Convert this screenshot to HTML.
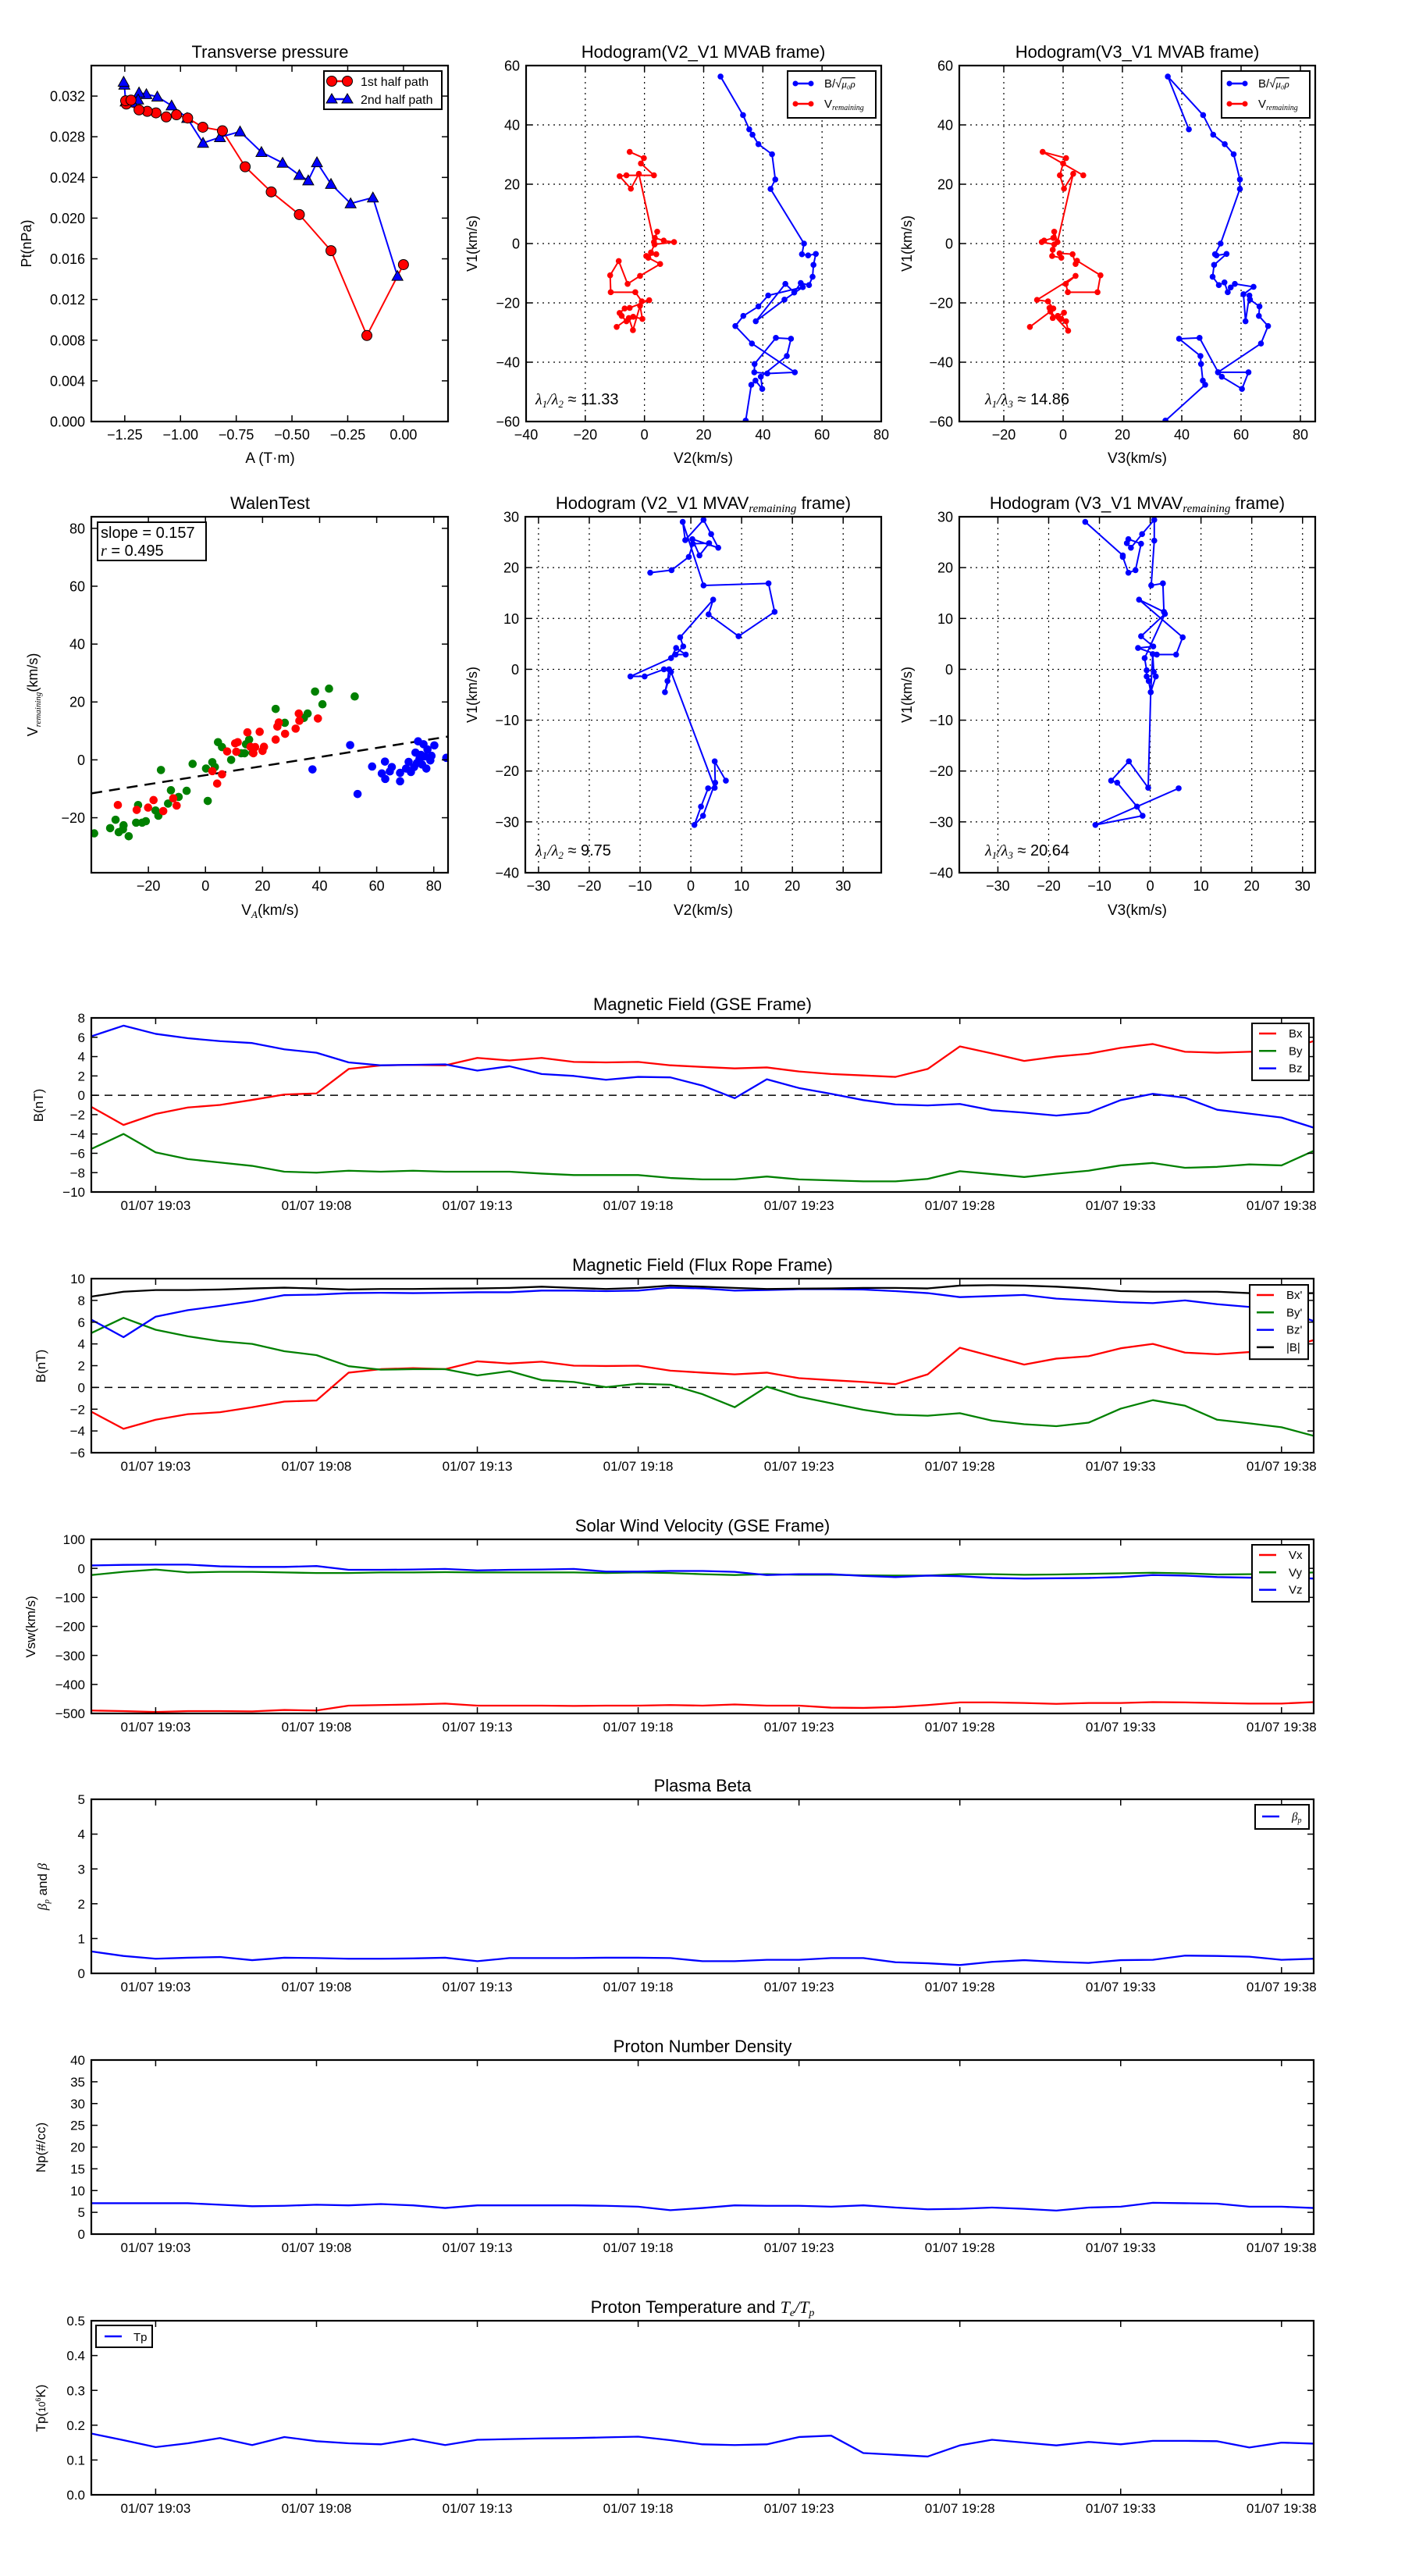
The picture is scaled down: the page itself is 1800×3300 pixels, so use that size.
<!DOCTYPE html>
<html><head><meta charset="utf-8"><title>Flux rope analysis</title>
<style>
html,body{margin:0;padding:0;background:#fff;}
svg{display:block;font-family:"Liberation Sans",sans-serif;}
</style></head>
<body>
<svg id="fig" xmlns="http://www.w3.org/2000/svg" width="1800" height="3300" viewBox="0 0 1800 3300">
<rect x="0" y="0" width="1800" height="3300" fill="#fff"/>
</svg>
<script>
// ---------- DATA ----------
const ptA1 = [0,-0.164,-0.325,-0.467,-0.593,-0.71,-0.812,-0.9,-0.968,-1.018,-1.064,-1.11,-1.149,-1.186,-1.243,-1.246,-1.222];
const ptP1 = [0.01543,0.00846,0.0168,0.02035,0.02258,0.02505,0.02859,0.02894,0.02984,0.03016,0.02995,0.03035,0.0305,0.03064,0.03122,0.03154,0.0316];
const ptA2 = [-0.027,-0.137,-0.237,-0.325,-0.388,-0.427,-0.467,-0.542,-0.637,-0.733,-0.823,-0.899,-0.97,-1.04,-1.104,-1.153,-1.186,-1.19,-1.216,-1.246,-1.252,-1.255];
const ptP2 = [0.01431,0.02202,0.02144,0.02335,0.02548,0.0237,0.02423,0.02543,0.02649,0.02851,0.02795,0.02739,0.02984,0.03106,0.03194,0.03218,0.03234,0.03165,0.03136,0.03146,0.03311,0.0334];

const h2RedX = [-5.0,-0.2,-1.2,3.2,-6.1,-8.4,-4.6,-1.9,3.2,4.3,3.5,6.5,10.0,3.4,2.2,4.0,0.6,1.3,5.3,-1.5,-5.7,-8.7,-11.6,-11.4,-3.1,-0.9,1.6,-5.0,-6.7,-8.4,-7.7,-6.1,-3.8,-0.7,-1.5,-3.9,-5.3,-9.4];
const h2RedY = [30.9,28.8,27.0,23.0,23.0,22.7,18.5,23.5,0.5,4.0,1.9,1.0,0.5,-0.3,-3.0,-3.6,-4.2,-4.8,-6.9,-10.9,-13.6,-5.9,-10.7,-16.4,-16.4,-19.5,-19.1,-21.7,-21.9,-23.4,-24.4,-26.2,-24.7,-25.4,-21.0,-29.2,-25.1,-28.1];
const h2BlueX = [25.7,33.3,35.4,36.5,38.5,43.1,44.2,42.6,53.9,53.2,55.3,57.9,57.1,56.8,55.6,52.8,50.6,47.6,37.6,47.3,53.5,41.8,38.5,33.4,30.7,36.3,50.8,41.5,37.1,37.2,44.4,49.5,48.1,39.3,39.8,37.5,36.1,34.2];
const h2BlueY = [56.3,43.3,38.5,36.7,33.5,30.1,21.6,18.4,0,-3.6,-4.0,-3.5,-7.2,-11.2,-14.0,-13.3,-16.5,-13.6,-26.2,-18.9,-14.7,-17.5,-21.2,-24.4,-27.8,-33.7,-43.4,-43.8,-43.4,-40.6,-31.8,-32.1,-37.9,-44.9,-49.0,-46.2,-47.6,-59.7];

const h3RedX = [6.8,-6.9,1.0,0.0,-1.1,0.3,3.4,-1.9,-3.0,-3.3,-6.4,-7.2,-3.0,-3.5,-3.7,-0.6,-1.2,3.2,4.2,4.7,12.6,11.6,1.6,0.9,4.2,-8.8,-5.1,-3.3,-4.6,-3.5,-1.8,0.3,-0.6,1.0,1.7,-4.3,-11.2];
const h3RedY = [23.0,30.9,28.8,27.0,23.0,18.5,23.5,0.5,4.0,1.9,1.0,0.5,-0.3,-2.1,-4.2,-4.8,-3.3,-3.6,-6.9,-5.8,-10.7,-16.4,-16.4,-13.6,-10.9,-19.0,-19.5,-21.9,-21.7,-25.1,-24.4,-23.3,-25.4,-26.2,-29.4,-22.9,-28.1];
const h3BlueX = [42.4,35.3,47.2,50.6,54.5,57.5,59.6,59.6,53.1,51.2,51.7,55.1,50.9,50.4,52.5,54.4,55.5,56.5,57.9,64.2,60.8,61.5,62.8,63.0,66.2,66.0,69.1,66.7,52.2,62.5,60.3,53.5,52.3,46.0,39.1,46.3,46.5,47.1,47.9,34.5];
const h3BlueY = [38.5,56.3,43.3,36.7,33.5,30.1,21.6,18.4,0.0,-3.6,-4.0,-3.5,-7.2,-11.2,-14.0,-13.1,-16.4,-14.8,-13.6,-14.6,-17.1,-26.2,-17.5,-18.9,-21.2,-24.4,-27.8,-33.7,-43.4,-43.4,-49.0,-44.9,-43.4,-31.8,-32.1,-37.9,-40.6,-46.2,-47.6,-59.7];

const walenGreenX = [-39.0,-33.4,-31.5,-30.4,-28.7,-28.9,-26.9,-23.6,-24.3,-22.2,-20.9,-17.5,-16.5,-15.6,-13.1,-12.1,-9.4,-6.6,-4.5,0.2,0.8,2.4,3.3,4.4,5.8,9.0,12.5,13.7,14.2,15.3,16.5,24.6,27.8,34.5,35.8,38.4,41.0,43.3,52.3];
const walenGreenY = [-25.4,-23.6,-20.7,-25.0,-22.6,-24.0,-26.4,-15.6,-21.7,-21.7,-21.2,-17.5,-19.3,-3.5,-15.1,-10.5,-12.8,-10.7,-1.4,-3.0,-14.2,-0.8,-2.5,6.1,4.4,0.0,2.3,2.3,5.4,7.0,2.5,17.6,12.8,14.5,16.0,23.6,19.2,24.6,21.9];
const walenRedX = [-30.7,-24.1,-20.1,-18.2,-14.8,-11.3,-10.1,2.4,4.1,5.8,7.6,10.4,10.8,11.3,14.7,15.8,16.8,17.4,19.0,20.0,20.5,24.6,25.2,25.7,27.9,31.6,32.7,32.9,39.4];
const walenRedY = [-15.6,-17.3,-16.5,-13.9,-17.7,-13.3,-15.8,-3.9,-8.2,-5.0,2.9,5.7,2.8,6.1,9.5,4.5,2.3,4.4,9.7,3.1,4.5,7.0,11.5,12.9,9.0,10.8,16.0,13.5,14.3];
const walenBlueX = [37.5,50.7,53.3,58.4,62.9,61.8,63.0,65.3,64.6,68.2,68.2,70.3,71.2,72.0,73.1,73.6,74.5,75.0,75.9,76.4,76.9,77.4,77.8,78.8,79.2,80.2,84.4,74.1,75.5];
const walenBlueY = [-3.3,5.1,-11.8,-2.3,-0.6,-4.7,-6.6,-2.5,-4.0,-4.5,-7.4,-3.0,-0.7,-4.2,-2.5,2.5,6.4,0.3,-1.6,5.4,1.2,-3.0,3.6,-0.2,1.4,5.0,0.7,-1.1,1.7];
const walenSlope = 0.157;
const walenIntercept = -5.3;

const h5X = [-8.0,-3.8,-0.4,0.4,3.6,1.7,0.3,5.4,4.0,2.5,-1.1,-1.6,2.5,15.3,16.5,9.4,3.5,4.4,-2.1,-1.5,-3.0,-1.0,-2.9,-3.9,-11.9,-9.1,-5.3,-4.3,-4.6,-5.1,-3.9,4.7,3.4,2.0,0.7,2.4,4.8,4.7,6.9];
const h5Y = [19.0,19.5,22.1,24.7,24.8,22.4,25.6,23.9,26.6,29.4,25.4,29.0,16.5,16.9,11.3,6.5,10.8,13.7,6.3,4.5,2.9,2.9,4.2,2.2,-1.4,-1.4,0,0,-2.3,-4.5,-0.5,-23.3,-23.4,-27.0,-30.6,-28.8,-22.3,-18.1,-21.9];
const h6X = [-12.8,-5.4,-5.4,-4.3,-2.9,-1.8,-4.3,-4.6,-3.8,-1.6,0.8,0.8,0.2,2.5,2.7,-2.2,6.4,5.1,1.3,-2.4,0.6,-1.8,2.9,-1.1,-0.7,-0.7,-0.3,0.1,0.5,0.7,1.1,0.1,-0.4,-4.2,-7.7,-6.5,-2.6,-1.5,-10.8,5.6];
const h6Y = [29.0,22.4,22.1,19.0,19.5,24.7,25.6,24.8,23.9,26.6,29.4,25.3,16.5,16.9,11.3,13.7,6.3,2.9,2.9,4.2,4.5,6.5,10.9,2.2,-0.2,-1.4,-2.3,-4.5,3.0,-0.5,-1.4,-4.5,-23.3,-18.1,-21.9,-22.3,-27.0,-28.8,-30.6,-23.4];

// time series (one sample per minute starting 01/07 19:01)
const timeTickMinutes = [2,7,12,17,22,27,32,37];
const timeTickLabels = ["01/07 19:03","01/07 19:08","01/07 19:13","01/07 19:18","01/07 19:23","01/07 19:28","01/07 19:33","01/07 19:38"];
const gseBx = [-1.2,-3.07,-1.93,-1.26,-1.0,-0.48,0.08,0.19,2.72,3.09,3.14,3.1,3.86,3.6,3.86,3.45,3.4,3.45,3.1,2.93,2.78,2.88,2.46,2.2,2.05,1.9,2.72,5.05,4.33,3.55,4.0,4.3,4.9,5.3,4.5,4.4,4.5,4.6,5.6];
const gseBy = [-5.55,-4.0,-5.9,-6.6,-6.95,-7.3,-7.9,-8.0,-7.8,-7.9,-7.8,-7.9,-7.9,-7.9,-8.1,-8.25,-8.25,-8.25,-8.55,-8.7,-8.7,-8.4,-8.7,-8.8,-8.9,-8.9,-8.65,-7.85,-8.15,-8.45,-8.1,-7.8,-7.25,-7.0,-7.5,-7.4,-7.15,-7.25,-5.75];
const gseBz = [6.1,7.2,6.35,5.9,5.6,5.4,4.75,4.4,3.4,3.1,3.15,3.2,2.55,3.0,2.2,2.0,1.6,1.9,1.85,1.0,-0.3,1.65,0.75,0.15,-0.5,-0.95,-1.05,-0.9,-1.55,-1.8,-2.1,-1.8,-0.5,0.15,-0.25,-1.5,-1.9,-2.3,-3.35];
const frBx = [-2.23,-3.8,-2.97,-2.46,-2.28,-1.82,-1.3,-1.2,1.36,1.68,1.77,1.68,2.4,2.2,2.37,2.0,1.97,2.0,1.54,1.36,1.2,1.36,0.85,0.67,0.5,0.3,1.2,3.65,2.87,2.1,2.65,2.87,3.6,4.0,3.2,3.05,3.25,3.5,4.35];
const frBy = [5.0,6.4,5.3,4.7,4.25,4.0,3.33,2.97,1.95,1.63,1.68,1.68,1.1,1.5,0.67,0.5,0.03,0.34,0.25,-0.62,-1.82,0.07,-0.85,-1.45,-2.05,-2.5,-2.6,-2.37,-3.05,-3.38,-3.56,-3.24,-1.95,-1.17,-1.68,-2.97,-3.3,-3.66,-4.45];
const frBz = [6.23,4.62,6.5,7.1,7.5,7.93,8.48,8.53,8.67,8.7,8.67,8.7,8.75,8.75,8.9,8.9,8.85,8.9,9.17,9.1,8.9,8.95,9.03,9.03,9.0,8.85,8.67,8.3,8.4,8.5,8.16,8.0,7.84,7.75,8.0,7.65,7.4,7.1,6.1];
const frBt = [8.35,8.8,8.95,8.95,9.0,9.1,9.17,9.1,9.0,9.05,9.05,9.08,9.1,9.15,9.26,9.15,9.05,9.15,9.36,9.26,9.15,9.05,9.08,9.1,9.15,9.15,9.1,9.36,9.4,9.36,9.26,9.1,8.85,8.8,8.8,8.8,8.67,8.62,8.67];
const velVx = [-490,-492,-495,-492,-492,-493,-488,-490,-473,-471,-469,-466,-473,-473,-473,-474,-473,-473,-471,-473,-469,-473,-473,-480,-481,-478,-471,-462,-462,-464,-467,-464,-464,-461,-462,-464,-466,-466,-461];
const velVy = [-23,-12,-4,-14,-12,-12,-14,-16,-16,-14,-14,-13,-14,-14,-14,-14,-16,-14,-16,-20,-23,-20,-22,-22,-24,-25,-25,-20,-20,-22,-21,-19,-17,-15,-17,-21,-20,-19,-14];
const velVz = [10,12,13,13,7,5,5,8,-5,-5,-4,-2,-7,-5,-4,-2,-11,-11,-9,-9,-12,-23,-20,-20,-26,-30,-25,-27,-33,-35,-34,-33,-30,-23,-25,-30,-32,-32,-35];
const betaP = [0.63,0.5,0.42,0.45,0.47,0.38,0.45,0.44,0.42,0.42,0.43,0.45,0.35,0.44,0.44,0.44,0.45,0.45,0.44,0.35,0.35,0.39,0.39,0.44,0.44,0.32,0.29,0.24,0.33,0.38,0.33,0.3,0.38,0.39,0.51,0.5,0.48,0.39,0.42];
const densNp = [7.1,7.1,7.1,7.1,6.75,6.4,6.5,6.75,6.6,6.9,6.6,6.0,6.6,6.6,6.6,6.6,6.5,6.3,5.5,6.0,6.6,6.5,6.5,6.3,6.6,6.1,5.7,5.8,6.1,5.8,5.4,6.1,6.3,7.2,7.1,7.0,6.3,6.3,6.0];
const tempTp = [0.176,0.157,0.137,0.148,0.163,0.143,0.166,0.154,0.148,0.145,0.16,0.143,0.158,0.16,0.162,0.163,0.165,0.167,0.157,0.145,0.143,0.145,0.166,0.17,0.12,0.115,0.11,0.142,0.158,0.15,0.142,0.152,0.145,0.155,0.155,0.154,0.136,0.15,0.147];

// ---------- DRAWING ----------
const NS = "http://www.w3.org/2000/svg";
const svg = document.getElementById('fig');
function mk(tag, attrs, parent){
  const e = document.createElementNS(NS, tag);
  for (const k in attrs) e.setAttribute(k, attrs[k]);
  parent.appendChild(e);
  return e;
}
function label(parent, x, y, str, size, anchor, name, extra){
  const t = mk('text', {x:x, y:y, 'font-size':size, 'text-anchor':anchor||'start', fill:'#000'}, parent);
  if (extra) for (const k in extra) t.setAttribute(k, extra[k]);
  t.textContent = str;
  
  
  return t;
}
function fmt(v, d){ const s = v.toFixed(d); return s.replace('-', '\u2212'); }
let clipId = 0;
function axes(name, box, xr, yr, xt, xtl, yt, ytl, fs, grid){
  const g = mk('g', {}, svg);
  
  
  const sx = v => box.x + (v - xr[0]) / (xr[1] - xr[0]) * box.w;
  const sy = v => box.y + box.h - (v - yr[0]) / (yr[1] - yr[0]) * box.h;
  const id = 'clip' + (clipId++);
  const cp = mk('clipPath', {id:id}, g);
  mk('rect', {x:box.x, y:box.y, width:box.w, height:box.h}, cp);
  if (grid){
    xt.forEach(v => { const l = mk('line', {x1:sx(v), x2:sx(v), y1:box.y, y2:box.y+box.h, stroke:'#000', 'stroke-width':1.2, 'stroke-dasharray':'2,5'}, g);
        });
    yt.forEach(v => { const l = mk('line', {x1:box.x, x2:box.x+box.w, y1:sy(v), y2:sy(v), stroke:'#000', 'stroke-width':1.2, 'stroke-dasharray':'2,5'}, g);
        });
  }
  const data = mk('g', {'clip-path':'url(#'+id+')'}, g);
  
  
  const tk = mk('g', {stroke:'#000', 'stroke-width':1.5}, g);
  
  
  xt.forEach((v,i) => {
    const X = sx(v);
    mk('line', {x1:X, x2:X, y1:box.y+box.h, y2:box.y+box.h-8}, tk);
    mk('line', {x1:X, x2:X, y1:box.y, y2:box.y+8}, tk);
    label(g, X, box.y+box.h+23, xtl[i], fs, 'middle', 'x-tick-label');
  });
  yt.forEach((v,i) => {
    const Y = sy(v);
    mk('line', {x1:box.x, x2:box.x+8, y1:Y, y2:Y}, tk);
    mk('line', {x1:box.x+box.w, x2:box.x+box.w-8, y1:Y, y2:Y}, tk);
    label(g, box.x-8, Y+fs*0.36, ytl[i], fs, 'end', 'y-tick-label');
  });
  const fr = mk('rect', {x:box.x, y:box.y, width:box.w, height:box.h, fill:'none', stroke:'#000', 'stroke-width':2.2}, g);
  
  
  return {g, data, sx, sy, box};
}
function line(ax, xs, ys, color, name, w, dash){
  let d = '';
  for (let i = 0; i < xs.length; i++) d += (i ? 'L' : 'M') + ax.sx(xs[i]).toFixed(2) + ',' + ax.sy(ys[i]).toFixed(2);
  const p = mk('path', {d:d, fill:'none', stroke:color, 'stroke-width':w||2, 'stroke-linejoin':'round'}, ax.data);
  if (dash) p.setAttribute('stroke-dasharray', dash);
  
  
  return p;
}
function dots(ax, xs, ys, color, name, r, stroke){
  const g = mk('g', {fill:color}, ax.data);
  
  
  for (let i = 0; i < xs.length; i++){
    const c = mk('circle', {cx:ax.sx(xs[i]), cy:ax.sy(ys[i]), r:r}, g);
    if (stroke) { c.setAttribute('stroke', stroke); c.setAttribute('stroke-width', 1); }
    
    
  }
}
function tris(ax, xs, ys, color, name, s){
  const g = mk('g', {fill:color, stroke:'#000', 'stroke-width':1}, ax.data);
  
  
  for (let i = 0; i < xs.length; i++){
    const X = ax.sx(xs[i]), Y = ax.sy(ys[i]);
    const p = mk('polygon', {points:`${X},${Y-s} ${X-s},${Y+s*0.8} ${X+s},${Y+s*0.8}`}, g);
    
    
  }
}
function range(a, b, s){ const r = []; for (let v = a; v <= b + 1e-9; v += s) r.push(Math.round(v*1e6)/1e6); return r; }
function ylab(x, y, str, size, name){
  const t = label(svg, x, y, str, size, 'middle', name);
  t.setAttribute('transform', `rotate(-90 ${x} ${y})`);
  return t;
}
function legendBox(x, y, w, h, name){
  const r = mk('rect', {x:x, y:y, width:w, height:h, fill:'#fff', stroke:'#000', 'stroke-width':2}, svg);
  
  
}
function legLine(x1, x2, y, color, name){
  const l = mk('line', {x1:x1, x2:x2, y1:y, y2:y, stroke:color, 'stroke-width':2.5}, svg);
  
  
}

// ---- Transverse pressure ----
(function(){
  const ax = axes('transverse-pressure-chart', {x:117,y:84,w:457,h:456}, [-1.4,0.2], [0,0.035],
    range(-1.25,0,0.25), range(-1.25,0,0.25).map(v=>fmt(v,2)), range(0,0.032,0.004), range(0,0.032,0.004).map(v=>fmt(v,3)), 18, false);
  line(ax, ptA1, ptP1, '#ff0000', 'first-half-path-line', 2);
  line(ax, ptA2, ptP2, '#0000ff', 'second-half-path-line', 2);
  tris(ax, ptA2, ptP2, '#0000ff', 'second-half-path', 7);
  dots(ax, ptA1, ptP1, '#ff0000', 'first-half-path', 6.5, '#000');
  label(svg, 346, 74, 'Transverse pressure', 22, 'middle', 'chart-title');
  label(svg, 346, 593, 'A (T\u00b7m)', 19, 'middle', 'x-axis-title');
  ylab(40, 312, 'Pt(nPa)', 18, 'y-axis-title');
  legendBox(415, 91, 151, 49, 'legend');
  legLine(425, 445, 104, '#ff0000', 'legend-line-first');
  mk('circle', {cx:425, cy:104, r:6.5, fill:'#ff0000', stroke:'#000'}, svg);
  mk('circle', {cx:445, cy:104, r:6.5, fill:'#ff0000', stroke:'#000'}, svg);
  label(svg, 462, 110, '1st half path', 16, 'start', 'legend-label-first');
  legLine(425, 445, 127, '#0000ff', 'legend-line-second');
  mk('polygon', {points:'425,120 418,132 432,132', fill:'#0000ff', stroke:'#000'}, svg);
  mk('polygon', {points:'445,120 438,132 452,132', fill:'#0000ff', stroke:'#000'}, svg);
  label(svg, 462, 133, '2nd half path', 16, 'start', 'legend-label-second');
})();

function hodoLegend(x){
  legendBox(x, 91, 113, 60, 'legend');
  legLine(x+10, x+30, 107, '#0000ff', 'legend-line-b');
  mk('circle', {cx:x+10, cy:107, r:3.5, fill:'#0000ff'}, svg);
  mk('circle', {cx:x+30, cy:107, r:3.5, fill:'#0000ff'}, svg);
  const t = label(svg, x+47, 112, 'B/\u221a', 15, 'start', 'legend-label-b');
  const ts = mk('tspan', {'font-family':'Liberation Serif, serif', 'font-style':'italic', 'text-decoration':'overline', 'font-size':13}, t);
  ts.textContent = '\u03bc\u2080\u03c1';
  legLine(x+10, x+30, 133, '#ff0000', 'legend-line-v');
  mk('circle', {cx:x+10, cy:133, r:3.5, fill:'#ff0000'}, svg);
  mk('circle', {cx:x+30, cy:133, r:3.5, fill:'#ff0000'}, svg);
  const t2 = label(svg, x+47, 138, 'V', 15, 'start', 'legend-label-v');
  const ts2 = mk('tspan', {'font-family':'Liberation Serif, serif', 'font-style':'italic', 'font-size':10, dy:3}, t2);
  ts2.textContent = 'remaining';
}
function lambdaText(x, y, sub, val, name){
  const t = label(svg, x, y, '', 20, 'start', name, {'font-family':'Liberation Serif, serif', 'font-style':'italic'});
  const a = mk('tspan', {}, t); a.textContent = '\u03bb';
  const b = mk('tspan', {'font-size':13, dy:4}, t); b.textContent = '1';
  const c = mk('tspan', {dy:-4}, t); c.textContent = '/\u03bb';
  const d = mk('tspan', {'font-size':13, dy:4}, t); d.textContent = sub;
  const e = mk('tspan', {dy:-4, 'font-style':'normal', 'font-family':'Liberation Sans, sans-serif'}, t); e.textContent = ' \u2248 ' + val;
}

// ---- Hodogram V2_V1 MVAB ----
(function(){
  const xt = range(-40,80,20), yt = range(-60,60,20);
  const ax = axes('hodogram-v2-v1-mvab', {x:674,y:84,w:455,h:456}, [-40,80], [-60,60], xt, xt.map(v=>fmt(v,0)), yt, yt.map(v=>fmt(v,0)), 18, true);
  line(ax, h2BlueX, h2BlueY, '#0000ff', 'b-alfven-path', 2);
  dots(ax, h2BlueX, h2BlueY, '#0000ff', 'b-alfven', 3.8);
  line(ax, h2RedX, h2RedY, '#ff0000', 'v-remaining-path', 2);
  dots(ax, h2RedX, h2RedY, '#ff0000', 'v-remaining', 3.8);
  label(svg, 901, 74, 'Hodogram(V2_V1 MVAB frame)', 22, 'middle', 'chart-title');
  label(svg, 901, 593, 'V2(km/s)', 19, 'middle', 'x-axis-title');
  ylab(611, 312, 'V1(km/s)', 18, 'y-axis-title');
  hodoLegend(1009);
  lambdaText(686, 518, '2', '11.33', 'eigenvalue-ratio');
})();
// ---- Hodogram V3_V1 MVAB ----
(function(){
  const xt = range(-20,80,20), yt = range(-60,60,20);
  const ax = axes('hodogram-v3-v1-mvab', {x:1229,y:84,w:456,h:456}, [-35,85], [-60,60], xt, xt.map(v=>fmt(v,0)), yt, yt.map(v=>fmt(v,0)), 18, true);
  line(ax, h3BlueX, h3BlueY, '#0000ff', 'b-alfven-path', 2);
  dots(ax, h3BlueX, h3BlueY, '#0000ff', 'b-alfven', 3.8);
  line(ax, h3RedX, h3RedY, '#ff0000', 'v-remaining-path', 2);
  dots(ax, h3RedX, h3RedY, '#ff0000', 'v-remaining', 3.8);
  label(svg, 1457, 74, 'Hodogram(V3_V1 MVAB frame)', 22, 'middle', 'chart-title');
  label(svg, 1457, 593, 'V3(km/s)', 19, 'middle', 'x-axis-title');
  ylab(1168, 312, 'V1(km/s)', 18, 'y-axis-title');
  hodoLegend(1565);
  lambdaText(1262, 518, '3', '14.86', 'eigenvalue-ratio');
})();
// ---- Walen test ----
(function(){
  const xt = range(-20,80,20), yt = range(-20,80,20);
  const ax = axes('walen-test-chart', {x:117,y:662,w:457,h:456}, [-40,85], [-39,84], xt, xt.map(v=>fmt(v,0)), yt, yt.map(v=>fmt(v,0)), 18, false);
  line(ax, [-40,85], [-40,85].map(v=>walenSlope*v+walenIntercept), '#000', 'regression-line', 2.5, '14,9');
  dots(ax, walenBlueX, walenBlueY, '#0000ff', 'walen-blue', 5.3);
  dots(ax, walenGreenX, walenGreenY, '#008000', 'walen-green', 5.3);
  dots(ax, walenRedX, walenRedY, '#ff0000', 'walen-red', 5.3);
  label(svg, 346, 652, 'WalenTest', 22, 'middle', 'chart-title');
  const xl = label(svg, 346, 1172, 'V', 19, 'middle', 'x-axis-title');
  const s = mk('tspan', {'font-size':13, dy:4, 'font-family':'Liberation Serif, serif', 'font-style':'italic'}, xl); s.textContent = 'A';
  const s2 = mk('tspan', {dy:-4}, xl); s2.textContent = '(km/s)';
  const yl = ylab(48, 890, 'V', 18, 'y-axis-title');
  const s3 = mk('tspan', {'font-size':11, dy:4, 'font-family':'Liberation Serif, serif', 'font-style':'italic'}, yl); s3.textContent = 'remaining';
  const s4 = mk('tspan', {dy:-4}, yl); s4.textContent = '(km/s)';
  legendBox(125, 669, 139, 49, 'stats-box');
  label(svg, 129, 689, 'slope = 0.157', 20, 'start', 'slope-text');
  const rt = label(svg, 129, 712, '', 20, 'start', 'correlation-text');
  const r1 = mk('tspan', {'font-family':'Liberation Serif, serif', 'font-style':'italic'}, rt); r1.textContent = 'r';
  const r2 = mk('tspan', {}, rt); r2.textContent = ' = 0.495';
})();
function mvavTitle(cx, y, v){
  const t = label(svg, cx, y, 'Hodogram (' + v + '_V1 MVAV', 22, 'middle', 'chart-title');
  const a = mk('tspan', {'font-family':'Liberation Serif, serif', 'font-style':'italic', 'font-size':15, dy:4}, t); a.textContent = 'remaining';
  const b = mk('tspan', {dy:-4}, t); b.textContent = ' frame)';
}
// ---- Hodogram V2_V1 MVAV ----
(function(){
  const xt = range(-30,30,10), yt = range(-40,30,10);
  const ax = axes('hodogram-v2-v1-mvav', {x:673,y:662,w:456,h:456}, [-32.6,37.5], [-40,30], xt, xt.map(v=>fmt(v,0)), yt, yt.map(v=>fmt(v,0)), 18, true);
  line(ax, h5X, h5Y, '#0000ff', 'hodogram-path', 2);
  dots(ax, h5X, h5Y, '#0000ff', 'hodogram', 3.8);
  mvavTitle(901, 652, 'V2');
  label(svg, 901, 1172, 'V2(km/s)', 19, 'middle', 'x-axis-title');
  ylab(611, 890, 'V1(km/s)', 18, 'y-axis-title');
  lambdaText(686, 1096, '2', '9.75', 'eigenvalue-ratio');
})();
// ---- Hodogram V3_V1 MVAV ----
(function(){
  const xt = range(-30,30,10), yt = range(-40,30,10);
  const ax = axes('hodogram-v3-v1-mvav', {x:1229,y:662,w:456,h:456}, [-37.6,32.5], [-40,30], xt, xt.map(v=>fmt(v,0)), yt, yt.map(v=>fmt(v,0)), 18, true);
  line(ax, h6X, h6Y, '#0000ff', 'hodogram-path', 2);
  dots(ax, h6X, h6Y, '#0000ff', 'hodogram', 3.8);
  mvavTitle(1457, 652, 'V3');
  label(svg, 1457, 1172, 'V3(km/s)', 19, 'middle', 'x-axis-title');
  ylab(1168, 890, 'V1(km/s)', 18, 'y-axis-title');
  lambdaText(1262, 1096, '3', '20.64', 'eigenvalue-ratio');
})();

// ---- time series ----
const minutes = gseBx.map((_, i) => i);
function tsPanel(name, top, yr, yt, ydec, title, ytitle, series, legend, zero){
  const ax = axes(name, {x:117,y:top,w:1566,h:223}, [0,38], yr, timeTickMinutes, timeTickLabels, yt, yt.map(v=>fmt(v,ydec)), 17, false);
  if (zero) line(ax, [0,38], [0,0], '#000', 'zero-line', 1.5, '10,7');
  series.forEach(s => line(ax, minutes, s.v, s.c, s.n, 2.3));
  const tt = label(svg, 900, top-10, title, 22, 'middle', 'chart-title');
  return {ax, tt};
}
function tsLegend(x, y, w, entries, textX, name){
  const h = entries.length * 22.3 + 6;
  legendBox(x, y, w, h, name);
  entries.forEach((e, i) => {
    const yy = y + 13 + i * 22.3;
    legLine(x+9, x+31, yy, e.c, 'legend-line');
    label(svg, x+47, yy+5, e.t, 15, 'start', 'legend-label');
  });
}
(function(){
  tsPanel('magnetic-field-gse-chart', 1304, [-10,8], range(-10,8,2), 0, 'Magnetic Field (GSE Frame)', 'B(nT)',
    [{v:gseBx,c:'#ff0000',n:'bx-line'},{v:gseBy,c:'#008000',n:'by-line'},{v:gseBz,c:'#0000ff',n:'bz-line'}], null, true);
  ylab(55, 1416, 'B(nT)', 17, 'y-axis-title');
  tsLegend(1604, 1311, 73, [{c:'#ff0000',t:'Bx'},{c:'#008000',t:'By'},{c:'#0000ff',t:'Bz'}], 0, 'legend');

  tsPanel('magnetic-field-flux-rope-chart', 1638, [-6,10], range(-6,10,2), 0, 'Magnetic Field (Flux Rope Frame)', 'B(nT)',
    [{v:frBx,c:'#ff0000',n:'bx-prime-line'},{v:frBy,c:'#008000',n:'by-prime-line'},{v:frBz,c:'#0000ff',n:'bz-prime-line'},{v:frBt,c:'#000',n:'b-total-line'}], null, true);
  ylab(58, 1750, 'B(nT)', 17, 'y-axis-title');
  tsLegend(1601, 1646, 75, [{c:'#ff0000',t:"Bx'"},{c:'#008000',t:"By'"},{c:'#0000ff',t:"Bz'"},{c:'#000',t:'|B|'}], 0, 'legend');

  tsPanel('solar-wind-velocity-chart', 1972, [-500,100], range(-500,100,100), 0, 'Solar Wind Velocity (GSE Frame)', 'Vsw',
    [{v:velVx,c:'#ff0000',n:'vx-line'},{v:velVy,c:'#008000',n:'vy-line'},{v:velVz,c:'#0000ff',n:'vz-line'}], null, false);
  ylab(45, 2084, 'Vsw(km/s)', 17, 'y-axis-title');
  tsLegend(1604, 1979, 73, [{c:'#ff0000',t:'Vx'},{c:'#008000',t:'Vy'},{c:'#0000ff',t:'Vz'}], 0, 'legend');

  tsPanel('plasma-beta-chart', 2305, [0,5], range(0,5,1), 0, 'Plasma Beta', 'beta',
    [{v:betaP,c:'#0000ff',n:'beta-p-line'}], null, false);
  const bl = ylab(60, 2417, '', 17, 'y-axis-title');
  const b1 = mk('tspan', {'font-family':'Liberation Serif, serif', 'font-style':'italic'}, bl); b1.textContent = '\u03b2';
  const b2 = mk('tspan', {'font-size':11, dy:3, 'font-family':'Liberation Serif, serif', 'font-style':'italic'}, bl); b2.textContent = 'p';
  const b3 = mk('tspan', {dy:-3}, bl); b3.textContent = ' and ';
  const b4 = mk('tspan', {'font-family':'Liberation Serif, serif', 'font-style':'italic'}, bl); b4.textContent = '\u03b2';
  legendBox(1608, 2312, 69, 31, 'legend');
  legLine(1617, 1639, 2327, '#0000ff', 'legend-line');
  const lb = label(svg, 1655, 2332, '\u03b2', 15, 'start', 'legend-label', {'font-family':'Liberation Serif, serif','font-style':'italic'});
  const lbs = mk('tspan', {'font-size':10, dy:3}, lb); lbs.textContent = 'p';

  tsPanel('proton-density-chart', 2639, [0,40], range(0,40,5), 0, 'Proton Number Density', 'Np',
    [{v:densNp,c:'#0000ff',n:'np-line'}], null, false);
  ylab(58, 2751, 'Np(#/cc)', 17, 'y-axis-title');

  const tp = tsPanel('proton-temperature-chart', 2973, [0,0.5], range(0,0.5,0.1), 1, 'Proton Temperature and ', 'Tp',
    [{v:tempTp,c:'#0000ff',n:'tp-line'}], null, false);
  const m1 = mk('tspan', {'font-family':'Liberation Serif, serif', 'font-style':'italic'}, tp.tt); m1.textContent = 'T';
  const m2 = mk('tspan', {'font-family':'Liberation Serif, serif', 'font-style':'italic','font-size':14, dy:4}, tp.tt); m2.textContent = 'e';
  const m3 = mk('tspan', {'font-family':'Liberation Serif, serif', 'font-style':'italic', dy:-4}, tp.tt); m3.textContent = '/T';
  const m4 = mk('tspan', {'font-family':'Liberation Serif, serif', 'font-style':'italic','font-size':14, dy:4}, tp.tt); m4.textContent = 'p';
  const tl = ylab(58, 3085, 'Tp(', 17, 'y-axis-title');
  const t1 = mk('tspan', {'font-size':12}, tl); t1.textContent = '10';
  const t2 = mk('tspan', {'font-size':9, dy:-6}, tl); t2.textContent = '6';
  const t3 = mk('tspan', {dy:6}, tl); t3.textContent = 'K)';
  legendBox(123, 2979, 72, 28, 'legend');
  legLine(134, 156, 2993, '#0000ff', 'legend-line');
  label(svg, 171, 2999, 'Tp', 15, 'start', 'legend-label');
})();
</script>
</body></html>
